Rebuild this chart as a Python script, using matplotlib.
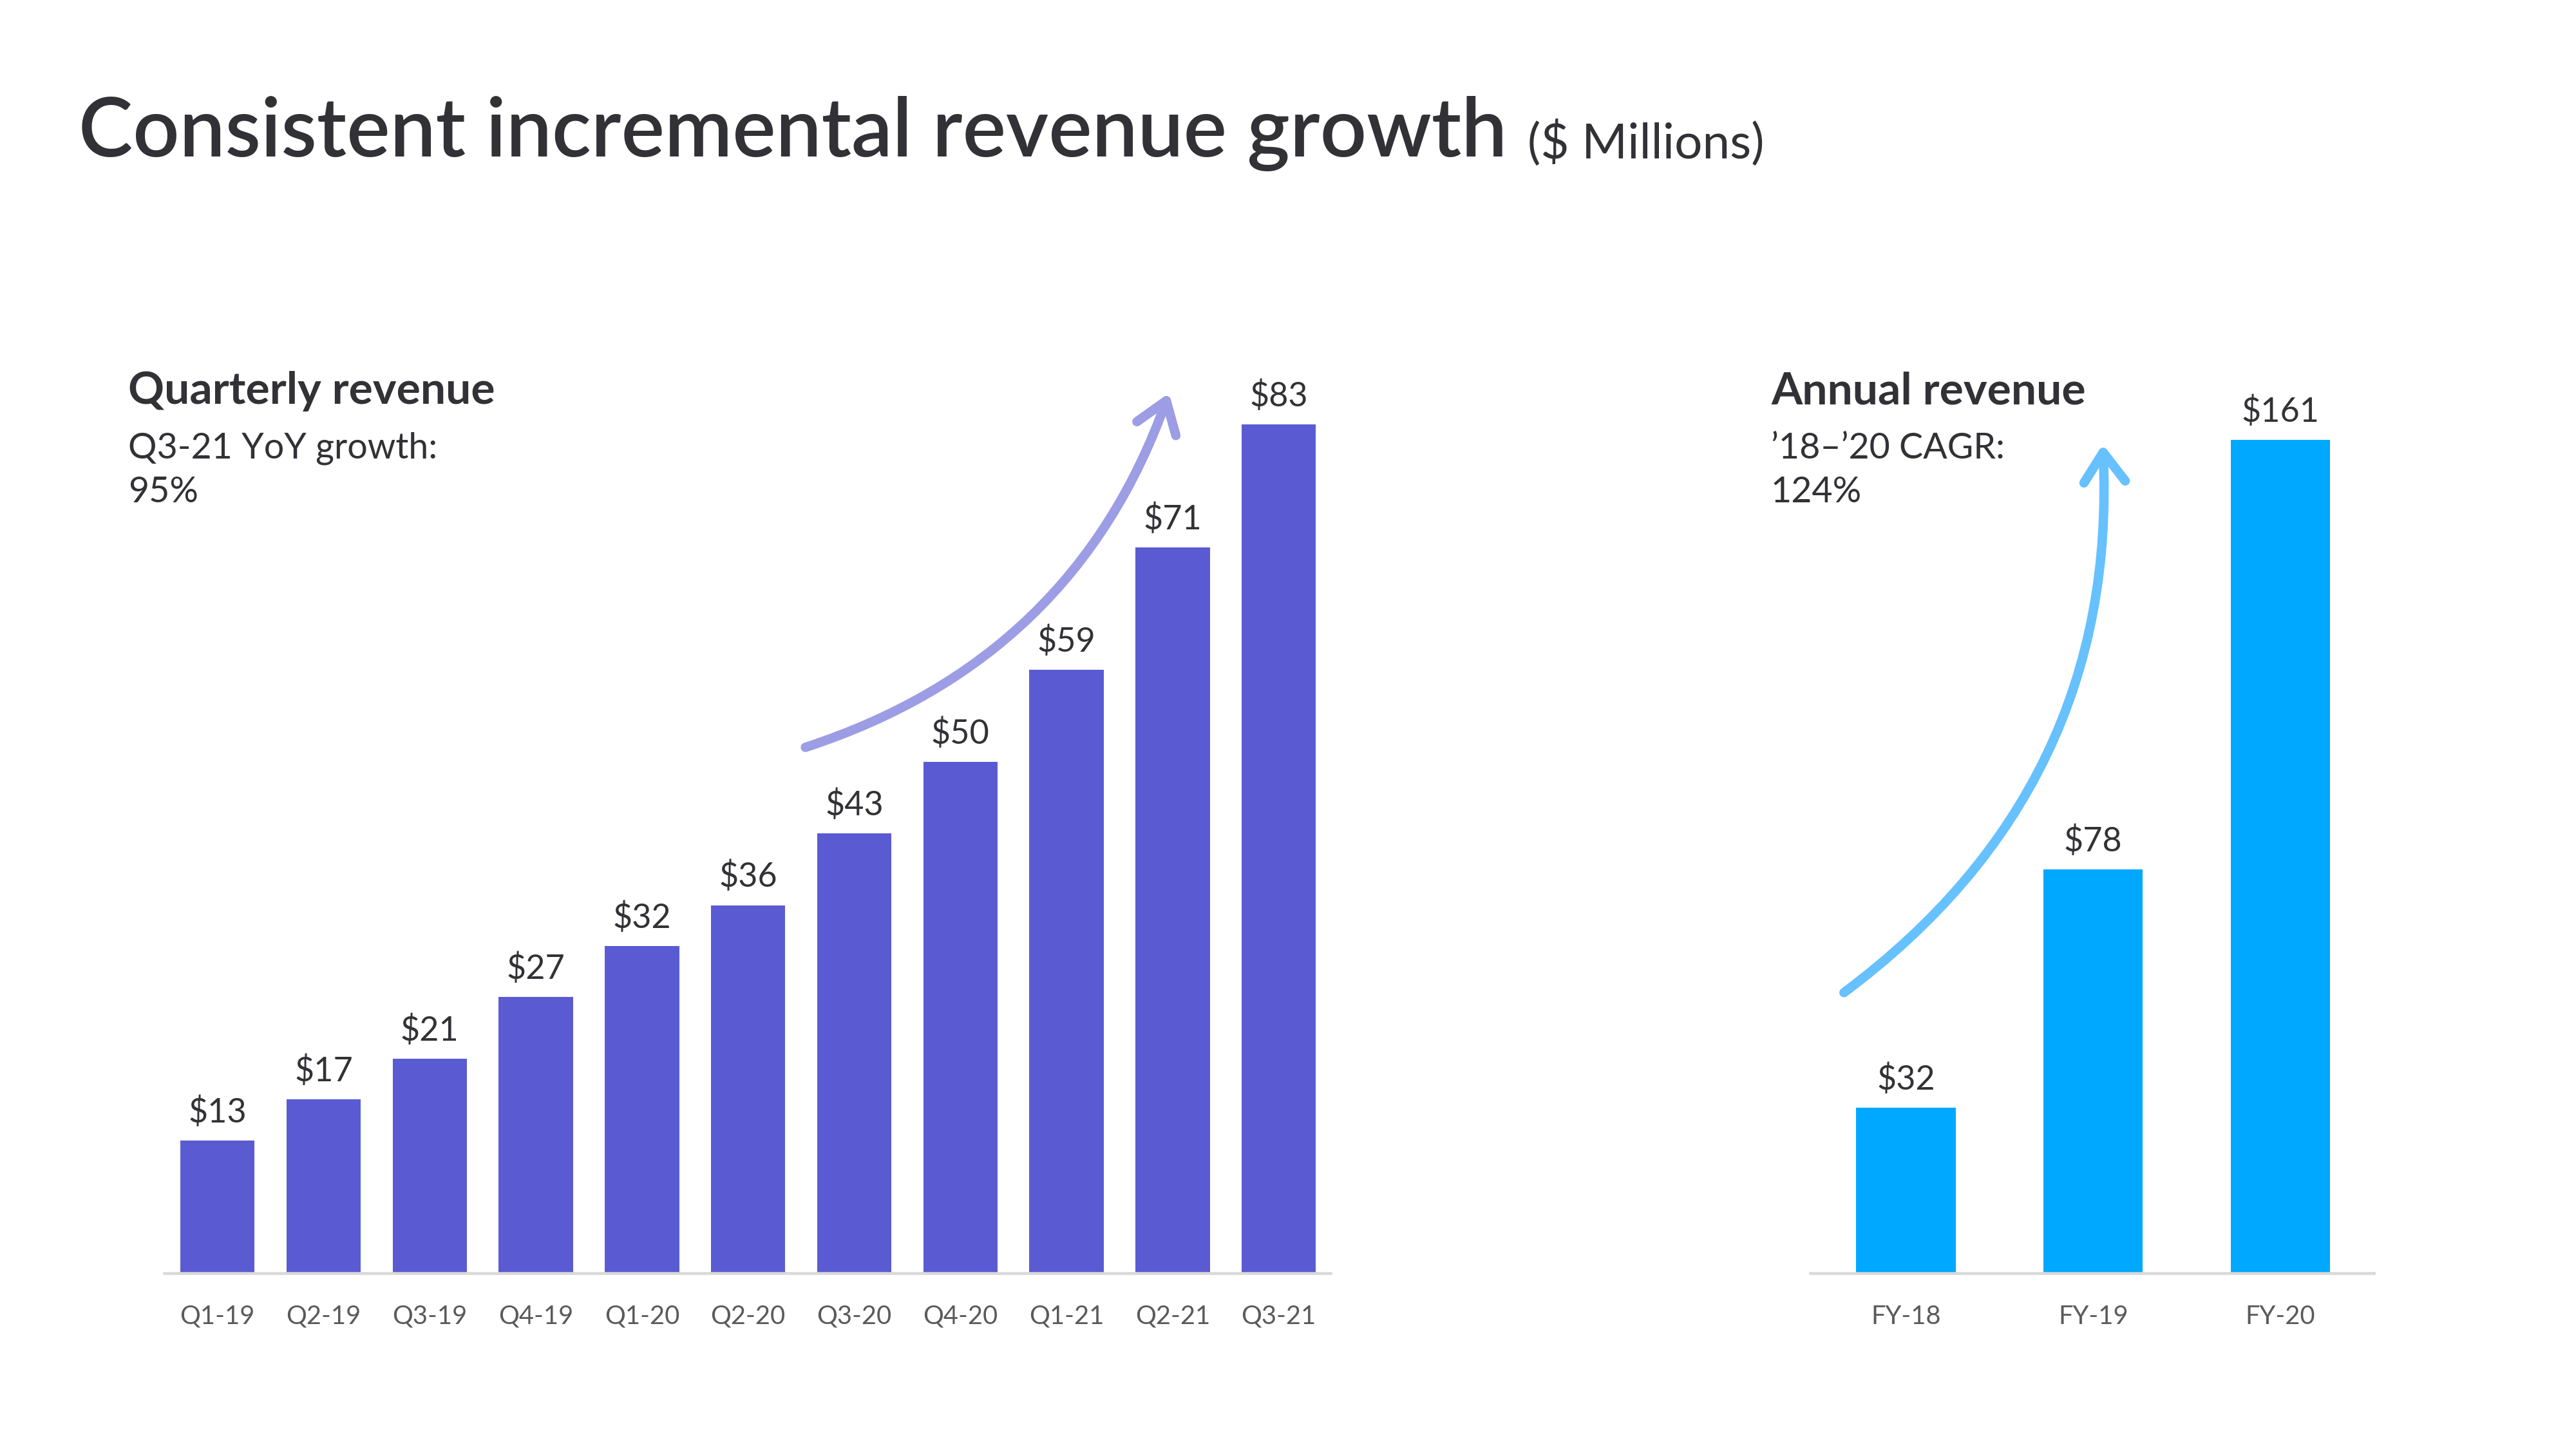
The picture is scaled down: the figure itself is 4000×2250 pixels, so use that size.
import matplotlib.pyplot as plt
from matplotlib.patches import FancyArrowPatch

plt.rcParams["font.family"] = ["Lato", "DejaVu Sans"]

# ── Data ─────────────────────────────────────────────────────
quarters = ["Q1-19", "Q2-19", "Q3-19", "Q4-19", "Q1-20", "Q2-20",
            "Q3-20", "Q4-20", "Q1-21", "Q2-21", "Q3-21"]
quarterly_revenue = [13, 17, 21, 27, 32, 36, 43, 50, 59, 71, 83]

years = ["FY-18", "FY-19", "FY-20"]
annual_revenue = [32, 78, 161]

TEXT = "#313136"
TICK = "#5a5a5a"
Q_COLOR = "#5a5bd3"
Q_ARROW = "#9c9de4"
A_COLOR = "#00a8ff"
A_ARROW = "#66c1fe"
AXIS = "#d9d9d9"

fig = plt.figure(figsize=(16, 9), dpi=250)

# ── Title ────────────────────────────────────────────────────
t = fig.text(0.0305, 0.908, "Consistent incremental revenue growth",
             fontsize=36.5, fontweight="semibold", color=TEXT, va="center")
fig.canvas.draw()
bb = t.get_window_extent()
x_end = bb.x1 / fig.bbox.width
fig.text(x_end + 0.008, 0.901, "($ Millions)", fontsize=22,
         color=TEXT, va="center")


def style_axes(ax):
    for side in ["top", "right", "left"]:
        ax.spines[side].set_visible(False)
    ax.spines["bottom"].set_color(AXIS)
    ax.spines["bottom"].set_linewidth(1.3)
    ax.set_yticks([])
    ax.tick_params(axis="x", length=0, pad=14, labelsize=11.5, labelcolor=TICK)
    ax.patch.set_alpha(0)


def label_bars(ax, xs, vals):
    for x, v in zip(xs, vals):
        ax.annotate(f"${v}", (x, v), xytext=(0, 5.5), textcoords="offset points",
                    ha="center", va="bottom", fontsize=15, color=TEXT)


# ── Quarterly chart ──────────────────────────────────────────
bottom, height = 0.1213, 0.652
ax1 = fig.add_axes([0.0638, bottom, 0.4528, height])
qx = list(range(len(quarters)))
ax1.bar(qx, quarterly_revenue, width=0.70, color=Q_COLOR)
ax1.set_xlim(-0.5, 10.49)
ax1.set_ylim(0, 92.4)
ax1.set_xticks(qx)
ax1.set_xticklabels(quarters)
style_axes(ax1)
label_bars(ax1, qx, quarterly_revenue)

arr1 = FancyArrowPatch((5.5, 51.3), (8.98, 86.5),
                       connectionstyle="arc3,rad=0.25",
                       arrowstyle="->,head_length=0.6,head_width=0.42",
                       mutation_scale=22, color=Q_ARROW, linewidth=4.2,
                       capstyle="round", joinstyle="round", clip_on=False)
ax1.add_patch(arr1)

fig.text(0.0497, 0.730, "Quarterly revenue", fontsize=20,
         fontweight="bold", color=TEXT, va="center")
fig.text(0.0497, 0.6905, "Q3-21 YoY growth:", fontsize=16,
         color=TEXT, va="center")
fig.text(0.0497, 0.660, "95%", fontsize=16, color=TEXT, va="center")

# ── Annual chart ─────────────────────────────────────────────
ax2 = fig.add_axes([0.7028, bottom, 0.2188, height])
ax_ = list(range(len(years)))
ax2.bar(ax_, annual_revenue, width=0.53, color=A_COLOR)
ax2.set_xlim(-0.51, 2.5)
ax2.set_ylim(0, 182.5)
ax2.set_xticks(ax_)
ax2.set_xticklabels(years)
style_axes(ax2)
label_bars(ax2, ax_, annual_revenue)

arr2 = FancyArrowPatch((-0.35, 53.7), (1.05, 161),
                       connectionstyle="arc3,rad=0.27",
                       arrowstyle="->,head_length=0.6,head_width=0.42",
                       mutation_scale=22, color=A_ARROW, linewidth=4.2,
                       capstyle="round", joinstyle="round", clip_on=False)
ax2.add_patch(arr2)

fig.text(0.6875, 0.730, "Annual revenue", fontsize=20,
         fontweight="bold", color=TEXT, va="center")
fig.text(0.6875, 0.6905, "\u201918\u2013\u201920 CAGR:", fontsize=16,
         color=TEXT, va="center")
fig.text(0.6875, 0.660, "124%", fontsize=16, color=TEXT, va="center")

fig.savefig("out.png", dpi=250, facecolor="white")
